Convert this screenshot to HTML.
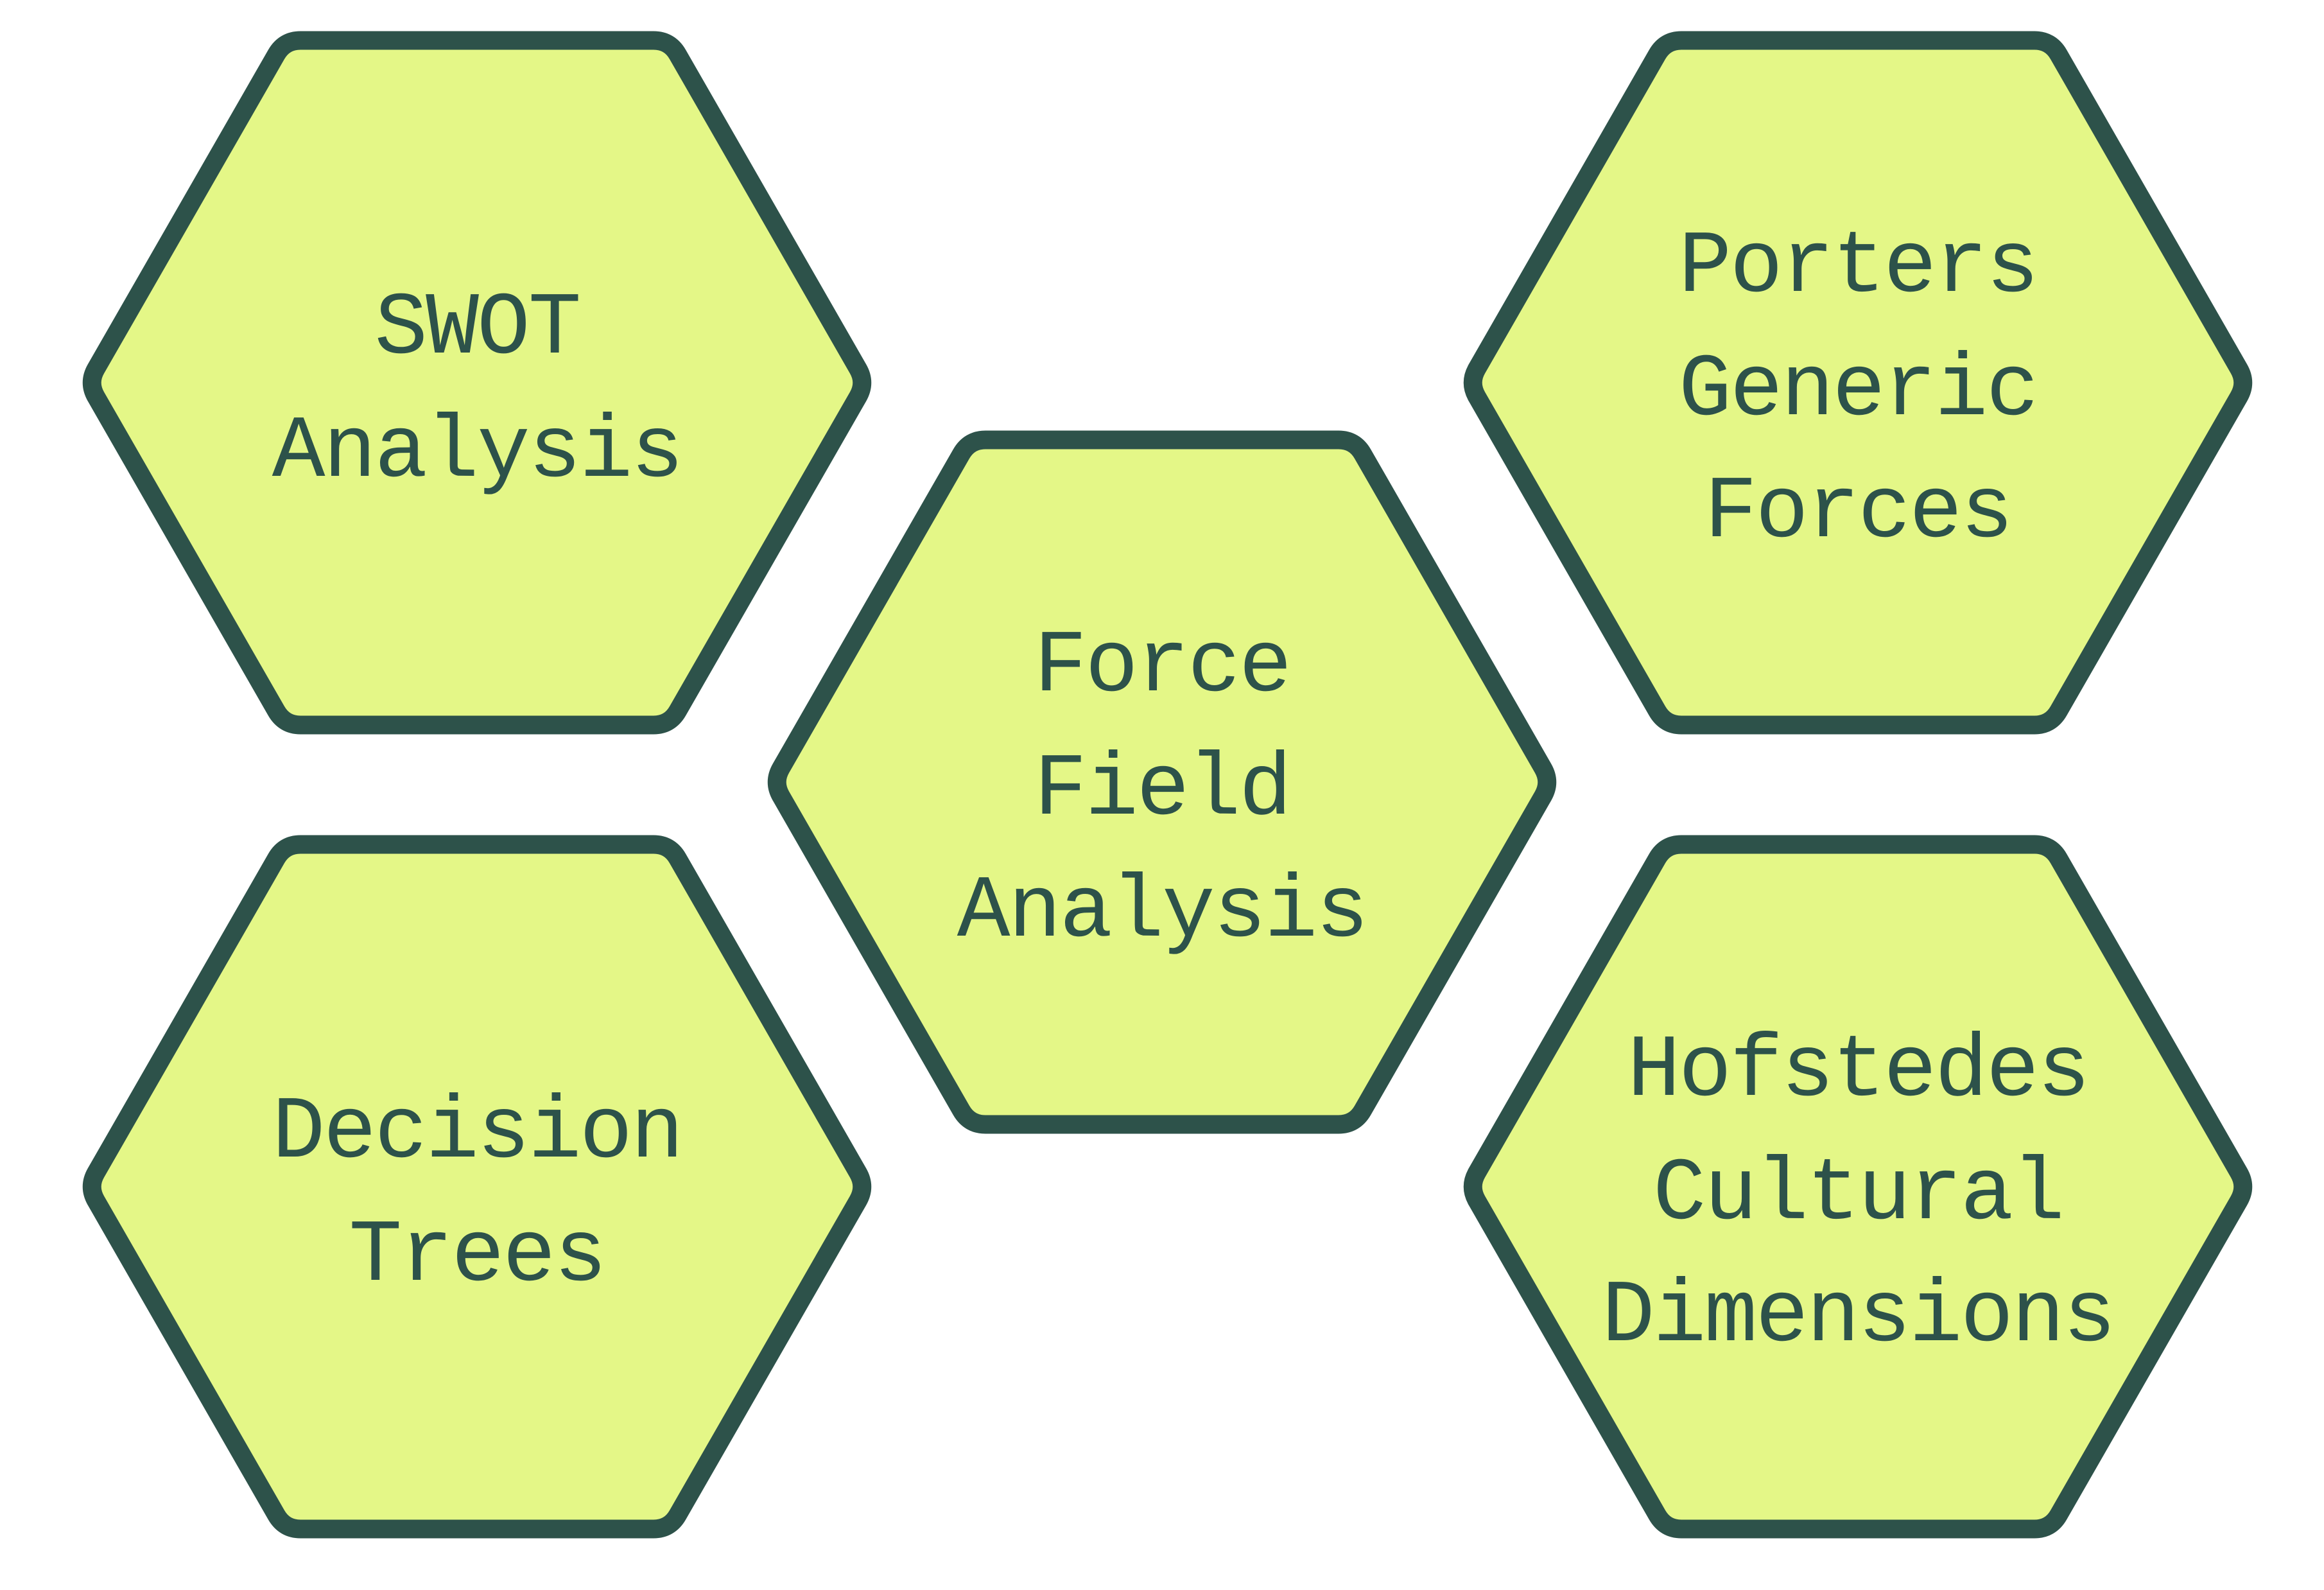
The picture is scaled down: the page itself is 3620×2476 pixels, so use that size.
<!DOCTYPE html>
<html><head><meta charset="utf-8"><style>
html,body{margin:0;padding:0;background:#fff;}
svg{display:block;}
text{font-family:"Liberation Mono","DejaVu Sans Mono",monospace;font-size:138px;fill:#2d524a;letter-spacing:-3px;}
</style></head><body>
<svg width="3620" height="2476" viewBox="0 0 3620 2476" xmlns="http://www.w3.org/2000/svg">
<defs>
<path id="hx" d="M -593.5,21.7 Q -606,0 -593.5,-21.7 L -312.5,-511.3 Q -300,-533 -275,-533 L 275,-533 Q 300,-533 312.5,-511.3 L 593.5,-21.7 Q 606,0 593.5,21.7 L 312.5,511.3 Q 300,533 275,533 L -275,533 Q -300,533 -312.5,511.3 Z" fill="#e4f787" stroke="#2d524a" stroke-width="29" stroke-linejoin="round"/>
</defs>
<use href="#hx" x="743" y="596"/>
<use href="#hx" x="743" y="1848"/>
<use href="#hx" x="1810" y="1218"/>
<use href="#hx" x="2894" y="596"/>
<use href="#hx" x="2894" y="1848"/>

<g text-anchor="middle">
<text x="743" y="549">SWOT</text>
<text x="743" y="741">Analysis</text>

<text x="743" y="1801">Decision</text>
<text x="743" y="1993">Trees</text>

<text x="1810" y="1075">Force</text>
<text x="1810" y="1267">Field</text>
<text x="1810" y="1457">Analysis</text>

<text x="2894" y="453">Porters</text>
<text x="2894" y="645">Generic</text>
<text x="2894" y="835">Forces</text>

<text x="2894" y="1705">Hofstedes</text>
<text x="2894" y="1897">Cultural</text>
<text x="2894" y="2087">Dimensions</text>
</g>
</svg>
</body></html>
